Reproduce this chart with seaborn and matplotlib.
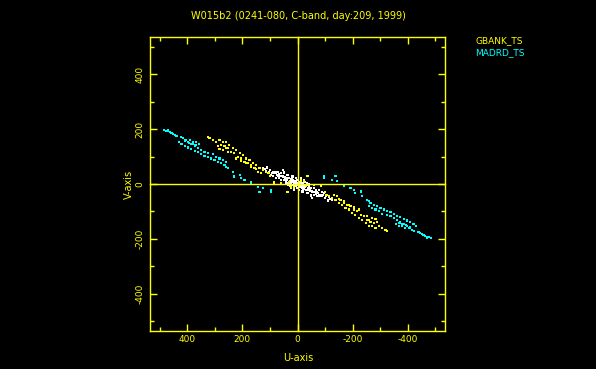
import matplotlib
matplotlib.use("Agg")
import matplotlib.pyplot as plt
import numpy as np
import pandas as pd
import seaborn as sns
from matplotlib.ticker import MultipleLocator, FuncFormatter

sns.set_theme(style="dark")
plt.rcParams['font.family'] = ['DejaVu Sans']
plt.rcParams['axes.unicode_minus'] = False

YEL = "#ffff00"
CYN = "#00ffff"
WHT = "#ffffff"

title = "W015b2 (0241-080, C-band, day:209, 1999)"
legend_names = ["GBANK_TS", "MADRD_TS"]
x_label = "U-axis"
y_label = "V-axis"
axis_limit = 535

# MADRD_TS baseline (one half of the uv track; conjugate points plotted too)
madrd_u = [485, 475, 463, 451, 439, 423, 415, 403, 391, 379, 367, 358, 397, 385, 373, 361,
           430, 421, 409, 397, 385, 373, 361, 349, 337, 325, 313, 301, 289, 277, 265, 253,
           349, 337, 325, 307, 295, 283, 271, 258,
           258, 235, 229, 210, 204, 192, 168, 144, 126, 96, 168, 138, 96,
           470, 457, 445, 409, 394, 380, 370]
madrd_v = [197, 193, 188, 181, 176, 171, 166, 161, 159, 154, 152, 147, 154, 147, 139, 130,
           152, 145, 139, 133, 127, 120, 115, 108, 103, 98, 93, 86, 81, 75, 69, 59,
           124, 117, 112, 108, 99, 93, 87, 79,
           63, 45, 27, 33, 21, 15, 3, -10, -16, -22, 8, -28, -28,
           195, 185, 178, 158, 150, 146, 143]

# GBANK_TS baseline
gbank_u = [325, 319, 307, 295, 283, 271, 277, 265, 289, 283, 271, 258, 253,
           258, 247, 235, 222, 210, 199, 186, 174, 162, 150, 138, 126, 114,
           253, 240, 229, 217, 204, 192, 181, 168, 156, 144, 132,
           222, 204, 186, 168, 150,
           84, 60, 24, 12, 36, 84, 30, 12, 100, 105]
gbank_v = [172, 166, 160, 154, 160, 154, 142, 139, 139, 127, 124, 130, 117,
           154, 142, 130, 124, 112, 105, 93, 87, 75, 69, 57, 51, 45,
           130, 117, 112, 99, 93, 81, 75, 63, 57, 45, 39,
           93, 84, 75, 67, 55,
           8, 3, -10, -16, -28, 3, 8, -10, 30, 40]

# short baselines near the centre (white)
other_u = [96, 84, 72, 60, 48, 54, 66, 78, 36, 30, 18, 6, 0, -6, 12, 24, -12, -18, -24,
           -30, -42, -48, -60, -54, -36, -66, -18, 0, 42, 48, 54, 110, 120, 100, 90,
           105, 115, 125, 88, 70, 40,
           4, 10, 16, 22, 28, -2, 8, 14, 20, 26, 32, 38, 44, 62, 68, 74, 80, 92, 104,
           -4, -10, -26, -34, -40]
other_v = [33, 39, 45, 39, 39, 27, 21, 21, 33, 21, 27, 21, 15, 8, 8, 3, 21, 3, 15,
           -4, -10, -16, -16, -28, -22, -34, -10, -4, 15, 45, 51, 60, 55, 50, 45,
           40, 48, 58, 28, 30, 5,
           4, 12, 16, 18, 10, 0, -2, 0, 6, 12, 8, 14, 24, 30, 36, 34, 42, 40, 45,
           -6, 2, 8, 4, -2]


def with_conjugate(u, v, name):
    uu = list(u) + [-x for x in u]
    vv = list(v) + [-y for y in v]
    return pd.DataFrame({"u": uu, "v": vv, "baseline": name})


df = pd.concat([
    with_conjugate(other_u, other_v, "OTHER"),
    with_conjugate(madrd_u, madrd_v, legend_names[1]),
    with_conjugate(gbank_u, gbank_v, legend_names[0]),
], ignore_index=True)
palette = {"OTHER": WHT, legend_names[1]: CYN, legend_names[0]: YEL}

W, H = 596, 369
fig = plt.figure(figsize=(W / 100, H / 100), dpi=100, facecolor="black")
pos = [150 / W, 1 - 331 / H, (445 - 150) / W, (331 - 37) / H]
ax = fig.add_axes(pos)
ax.set_facecolor("black")

sns.scatterplot(data=df, x="u", y="v", hue="baseline", palette=palette,
                marker="s", s=2.5, linewidth=0, legend=False, ax=ax)

ax.set_xlim(axis_limit, -axis_limit)
ax.set_ylim(-axis_limit, axis_limit)
ax.set_xlabel("")
ax.set_ylabel("")
ax.grid(False)
for sp in ax.spines.values():
    sp.set_color(YEL)
    sp.set_linewidth(1.0)
    sp.set_visible(True)

fmt = FuncFormatter(lambda val, p: f"{int(round(val))}")
for axis in (ax.xaxis, ax.yaxis):
    axis.set_major_locator(MultipleLocator(200))
    axis.set_minor_locator(MultipleLocator(100))
    axis.set_major_formatter(fmt)
ax.tick_params(which="both", direction="in", colors=YEL, width=1,
               top=True, right=True, bottom=True, left=True,
               labelsize=6.5, labelcolor=YEL)
ax.tick_params(which="major", length=5)
ax.tick_params(which="minor", length=3)
ax.tick_params(axis="x", pad=3)
ax.tick_params(axis="y", pad=4)
for lab in ax.get_yticklabels():
    lab.set_rotation(90)
    lab.set_va("center")

# zero axes through the origin
ax2 = fig.add_axes(pos, sharex=ax, sharey=ax)
ax2.set_facecolor("none")
ax2.patch.set_alpha(0)
ax2.grid(False)
ax2.spines["top"].set_visible(False)
ax2.spines["right"].set_visible(False)
ax2.spines["left"].set_position(("data", 0))
ax2.spines["bottom"].set_position(("data", 0))
for k in ("left", "bottom"):
    ax2.spines[k].set_color(YEL)
    ax2.spines[k].set_linewidth(1.0)
ax2.tick_params(which="both", direction="inout", colors=YEL, width=1,
                labelbottom=False, labelleft=False, top=False, right=False)
ax2.tick_params(which="major", length=8)
ax2.tick_params(which="minor", length=4)

fig.text(298 / W, 1 - 16 / H, title, color=YEL, fontsize=7, ha="center", va="center")
fig.text(298 / W, 1 - 358 / H, x_label, color=YEL, fontsize=7, ha="center", va="center")
fig.text(129 / W, 1 - 184 / H, y_label, color=YEL, fontsize=7, ha="center", va="center",
         rotation=90)
fig.text(475 / W, 1 - 41 / H, legend_names[0], color=YEL, fontsize=6.5, ha="left", va="center")
fig.text(475 / W, 1 - 53 / H, legend_names[1], color=CYN, fontsize=6.5, ha="left", va="center")

fig.savefig("out.png", dpi=100, facecolor="black")
